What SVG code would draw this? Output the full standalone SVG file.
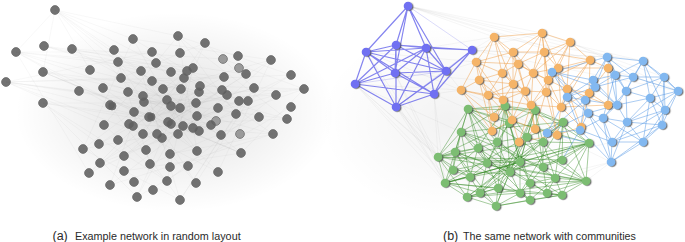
<svg xmlns="http://www.w3.org/2000/svg" width="685" height="242" viewBox="0 0 685 242">
<style>
.ta{font-family:"Liberation Sans",Arial,sans-serif;fill:#2a2a2a}
.n{fill:#5e5e5e;fill-opacity:0.88;stroke:#6a6a6a;stroke-width:0.8}
.nl{fill:#9a9a9a;stroke:#777;stroke-width:0.9}
.bp circle{fill:#6f6ff2}
.or circle{fill:#f5b468}
.lb circle{fill:#82b8f0}
.gr circle{fill:#7cbd72}
.rn{filter:url(#sh)}
</style>
<defs>
<radialGradient id="hazeL" cx="0.5" cy="0.5" r="0.5">
<stop offset="0" stop-color="#000" stop-opacity="0.13"/>
<stop offset="0.6" stop-color="#000" stop-opacity="0.05"/>
<stop offset="1" stop-color="#000" stop-opacity="0"/>
</radialGradient>
<radialGradient id="hazeR" cx="0.5" cy="0.5" r="0.5">
<stop offset="0" stop-color="#000" stop-opacity="0.05"/>
<stop offset="1" stop-color="#000" stop-opacity="0"/>
</radialGradient>
<filter id="sh" x="-20%" y="-20%" width="140%" height="140%">
<feDropShadow dx="1.3" dy="0.7" stdDeviation="0.6" flood-color="#444" flood-opacity="0.75"/>
</filter>
</defs>
<rect width="685" height="242" fill="#fff"/>
<ellipse cx="175" cy="112" rx="160" ry="100" fill="url(#hazeL)"/>
<ellipse cx="450" cy="120" rx="130" ry="95" fill="url(#hazeR)"/>
<g id="connectors" fill="none">
<path id="edges-a" stroke="#777" stroke-opacity="0.09" stroke-width="0.6" d="M55 10L133 39 M55 10L178 36 M55 10L152 81 M55 10L200 86 M55 10L121 78 M55 10L114 50 M55 10L43 72 M55 10L16 52 M55 10L171 106 M55 10L90 70 M6 82L121 78 M6 82L171 106 M6 82L143 134 M6 82L104 125 M6 82L199 131 M6 82L79 91 M6 82L152 52 M6 82L224 77 M16 52L152 52 M16 52L180 108 M16 52L110 105 M16 52L224 77 M16 52L134 112 M16 52L193 68 M16 52L163 89 M44 46L171 72 M44 46L199 92 M44 46L141 71 M44 46L246 74 M72 49L187 71 M72 49L167 100 M72 49L223 59 M43 72L149 117 M43 72L196 103 M43 72L181 89 M43 72L241 153 M43 103L149 117 M43 103L196 103 M43 103L167 181 M43 103L99 144 M43 103L171 124 M304 89L200 86 M304 89L171 106 M304 89L223 59 M304 89L193 128 M304 89L241 153 M304 89L143 96 M291 75L178 36 M291 75L152 81 M291 75L183 126 M291 75L199 131 M271 60L133 39 M271 60L163 89 M271 60L218 108 M271 60L168 122 M205 43L143 134 M205 43L254 88 M205 43L121 78 M205 43L171 124 M178 36L104 125 M178 36L197 151 M178 36L287 119 M178 36L236 114 M133 39L239 101 M133 39L183 126 M133 39L83 149 M180 200L141 71 M180 200L236 114 M180 200L83 149 M180 200L254 88 M180 200L110 105 M137 197L193 68 M137 197L291 107 M137 197L43 103 M137 197L200 86 M89 173L184 78 M89 173L239 101 M89 173L16 52 M89 173L171 106 M110 185L227 95 M110 185L143 96 M110 185L273 134 M241 153L114 50 M241 153L124 171 M241 153L43 72 M241 153L168 122 M273 134L103 88 M273 134L170 154 M273 134L152 52 M273 134L129 124 M287 119L6 82 M287 119L152 81 M287 119L171 124 M218 172L121 78 M218 172L143 134 M218 172L271 60 M196 183L118 62 M196 183L248 101 M196 183L134 112 M167 181L193 68 M167 181L104 125 M167 181L276 95 M83 149L187 71 M83 149L211 125 M99 144L224 77 M99 144L181 89 M100 163L178 134 M100 163L222 90 M124 156L246 74 M124 156L199 92 M150 164L118 62 M150 164L259 117 M197 151L103 88 M197 151L141 71 M221 135L128 92 M221 135L156 63 M254 88L129 124 M254 88L149 117 M276 95L144 102 M276 95L171 124"/>
<path id="edges-b-gray" stroke="#888" stroke-opacity="0.13" stroke-width="0.6" d="M408 6L607 57 M408 6L643 61 M408 6L542 33 M408 6L494 37 M408 6L590 60 M472 50L607 57 M472 50L542 33 M355 84L438 157 M355 84L445 183 M355 84L467 197 M355 84L461 132 M396 107L438 157 M396 107L445 183 M396 107L467 197 M396 107L496 206 M366 52L461 90 M366 52L476 62 M355 84L461 90 M434 94L461 90 M434 94L468 109 M434 94L438 157 M446 71L476 62 M446 71L461 90 M472 50L494 37 M472 50L476 62 M395 73L445 183 M395 73L479 80 M426 48L494 37 M426 48L607 57 M408 6L678 91 M472 50L678 91 M366 52L438 157 M445 183L547 133 M461 90L611 162 M494 37L643 61 M542 33L664 77 M570 42L678 91 M611 162L496 206 M611 162L467 197 M612 142L445 183 M586 181L611 162 M355 84L496 206 M366 52L445 183 M395 73L438 157 M434 94L445 183"/>
<path id="edges-b-purple" stroke="#5050e8" stroke-opacity="0.7" stroke-width="1.2" d="M408 6L366 52 M408 6L396 45 M408 6L426 48 M408 6L446 71 M408 6L395 73 M366 52L396 45 M366 52L426 48 M366 52L355 84 M366 52L395 73 M366 52L434 94 M366 52L396 107 M366 52L446 71 M396 45L426 48 M396 45L472 50 M396 45L395 73 M396 45L396 107 M396 45L355 84 M396 45L446 71 M426 48L472 50 M426 48L446 71 M426 48L434 94 M426 48L395 73 M426 48L396 107 M426 48L355 84 M472 50L446 71 M472 50L434 94 M395 73L355 84 M395 73L434 94 M395 73L446 71 M355 84L396 107 M355 84L434 94 M396 107L434 94 M446 71L434 94 M446 71L396 107"/>
<path id="edges-b-purple-faint" stroke="#5252e6" stroke-opacity="0.25" stroke-width="0.8" d="M408 6L472 50 M355 84L446 71 M396 107L472 50"/>
<path id="edges-b-green" stroke="#358a25" stroke-opacity="0.52" stroke-width="0.85" d="M468 109L505 106 M468 109L461 132 M468 109L455 152 M468 109L509 123 M468 109L497 142 M468 109L478 148 M468 109L438 157 M468 109L487 163 M468 109L520 162 M468 109L535 110 M468 109L589 143 M505 106L535 110 M505 106L509 123 M505 106L497 142 M505 106L527 137 M505 106L478 148 M505 106L520 162 M505 106L510 172 M505 106L563 122 M505 106L461 132 M535 110L563 122 M535 110L527 137 M535 110L543 142 M535 110L509 123 M535 110L543 167 M535 110L520 162 M535 110L589 143 M563 122L589 143 M563 122L543 142 M563 122L562 160 M563 122L555 178 M563 122L527 137 M563 122L586 181 M563 122L461 132 M589 143L562 160 M589 143L586 181 M589 143L555 178 M589 143L543 167 M589 143L543 142 M589 143L562 195 M589 143L445 183 M461 132L438 157 M461 132L455 152 M461 132L478 148 M461 132L453 170 M461 132L497 142 M461 132L487 163 M461 132L470 177 M438 157L455 152 M438 157L445 183 M438 157L453 170 M438 157L470 177 M438 157L478 148 M438 157L467 197 M438 157L586 181 M438 157L520 162 M455 152L478 148 M455 152L453 170 M455 152L470 177 M455 152L487 163 M455 152L445 183 M455 152L510 172 M445 183L467 197 M445 183L453 170 M445 183L470 177 M445 183L480 193 M445 183L498 188 M445 183L562 195 M467 197L480 193 M467 197L498 188 M467 197L496 206 M467 197L470 177 M467 197L520 193 M467 197L586 181 M586 181L562 195 M586 181L555 178 M586 181L562 160 M586 181L547 193 M586 181L543 167 M586 181L530 183 M562 195L547 193 M562 195L530 200 M562 195L555 178 M562 195L496 206 M562 195L520 193 M496 206L498 188 M496 206L520 193 M496 206L530 200 M496 206L480 193 M496 206L510 172 M509 123L497 142 M509 123L527 137 M509 123L520 162 M509 123L487 163 M497 142L478 148 M497 142L487 163 M497 142L527 137 M497 142L520 162 M497 142L510 172 M527 137L543 142 M527 137L520 162 M527 137L543 167 M527 137L510 172 M543 142L543 167 M543 142L562 160 M543 142L555 178 M543 142L520 162 M478 148L487 163 M478 148L470 177 M478 148L453 170 M487 163L510 172 M487 163L470 177 M487 163L520 162 M487 163L498 188 M487 163L480 193 M520 162L543 167 M520 162L510 172 M520 162L530 183 M520 162L520 193 M543 167L555 178 M543 167L530 183 M543 167L547 193 M543 167L562 160 M555 178L547 193 M555 178L530 183 M555 178L530 200 M530 183L510 172 M530 183L520 193 M530 183L530 200 M530 183L547 193 M510 172L498 188 M510 172L520 193 M510 172L480 193 M498 188L520 193 M498 188L480 193 M520 193L530 200 M453 170L470 177 M470 177L480 193 M468 109L586 181 M461 132L562 195 M445 183L589 143 M467 197L563 122 M438 157L562 160 M496 206L535 110 M453 170L589 143 M480 193L563 122 M438 157L543 142 M445 183L527 137 M453 170L555 178 M470 177L562 160 M478 148L547 193 M487 163L586 181 M455 152L530 200 M461 132L543 167 M468 109L510 172 M505 106L498 188 M535 110L498 188 M563 122L520 193 M589 143L510 172 M497 142L555 178 M509 123L530 183 M527 137L480 193 M467 197L543 142 M445 183L520 162 M438 157L509 123 M496 206L455 152 M530 200L478 148"/>
<path id="edges-b-orange" stroke="#ee9a3e" stroke-opacity="0.55" stroke-width="0.85" d="M494 37L513 52 M494 37L476 62 M494 37L518 64 M494 37L502 73 M494 37L542 33 M494 37L479 80 M494 37L513 84 M542 33L513 52 M542 33L544 52 M542 33L570 42 M542 33L518 64 M542 33L533 73 M542 33L558 68 M542 33L548 80 M570 42L544 52 M570 42L590 60 M570 42L558 68 M570 42L548 80 M570 42L533 73 M570 42L567 89 M513 52L544 52 M513 52L476 62 M513 52L518 64 M513 52L502 73 M513 52L533 73 M513 52L513 84 M513 52L525 91 M544 52L518 64 M544 52L533 73 M544 52L558 68 M544 52L548 80 M544 52L590 60 M544 52L546 92 M476 62L502 73 M476 62L479 80 M476 62L461 90 M476 62L488 95 M476 62L518 64 M476 62L503 100 M518 64L502 73 M518 64L533 73 M518 64L513 84 M518 64L525 91 M518 64L548 80 M590 60L558 68 M590 60L548 80 M590 60L567 89 M590 60L608 68 M590 60L589 93 M590 60L561 107 M502 73L479 80 M502 73L513 84 M502 73L488 95 M502 73L503 100 M502 73L525 91 M533 73L558 68 M533 73L513 84 M533 73L548 80 M533 73L525 91 M533 73L546 92 M533 73L531 105 M558 68L548 80 M558 68L567 89 M558 68L546 92 M558 68L608 68 M558 68L561 107 M479 80L461 90 M479 80L488 95 M479 80L503 100 M479 80L513 84 M479 80L492 131 M513 84L488 95 M513 84L525 91 M513 84L503 100 M513 84L531 105 M513 84L512 120 M548 80L546 92 M548 80L567 89 M548 80L531 105 M548 80L561 107 M548 80L557 135 M461 90L488 95 M461 90L503 100 M461 90L492 131 M461 90L494 117 M488 95L503 100 M488 95L512 120 M488 95L492 131 M488 95L494 117 M488 95L525 91 M525 91L546 92 M525 91L503 100 M525 91L531 105 M525 91L512 120 M525 91L535 129 M546 92L567 89 M546 92L531 105 M546 92L561 107 M546 92L557 135 M546 92L535 129 M567 89L561 107 M567 89L589 93 M567 89L581 127 M567 89L608 105 M503 100L531 105 M503 100L512 120 M503 100L492 131 M503 100L494 117 M531 105L561 107 M531 105L512 120 M531 105L519 142 M531 105L535 129 M531 105L557 135 M561 107L557 135 M561 107L581 127 M561 107L608 105 M561 107L589 93 M512 120L492 131 M512 120L519 142 M512 120L535 129 M519 142L535 129 M519 142L557 135 M557 135L581 127 M557 135L535 129 M608 68L589 93 M608 68L608 105 M589 93L608 105 M589 93L581 127"/>
<path id="edges-b-blue" stroke="#4a90e2" stroke-opacity="0.55" stroke-width="0.85" d="M607 57L643 61 M607 57L615 75 M607 57L593 80 M607 57L595 87 M607 57L633 77 M607 57L626 91 M607 57L552 72 M607 57L617 105 M643 61L664 77 M643 61L633 77 M643 61L626 91 M643 61L650 98 M643 61L615 75 M643 61L678 91 M643 61L665 110 M664 77L678 91 M664 77L650 98 M664 77L665 110 M664 77L633 77 M664 77L626 91 M664 77L662 125 M678 91L650 98 M678 91L665 110 M678 91L662 125 M678 91L633 77 M678 91L627 122 M552 72L593 80 M552 72L567 97 M552 72L595 87 M552 72L585 100 M552 72L588 113 M593 80L615 75 M593 80L595 87 M593 80L567 97 M593 80L585 100 M593 80L617 105 M615 75L626 91 M615 75L633 77 M615 75L617 105 M615 75L595 87 M615 75L603 118 M626 91L650 98 M626 91L617 105 M626 91L627 122 M626 91L633 77 M626 91L603 118 M650 98L665 110 M650 98L627 122 M650 98L662 125 M650 98L617 105 M650 98L643 142 M665 110L662 125 M665 110L627 122 M665 110L643 142 M665 110L612 142 M662 125L643 142 M662 125L627 122 M662 125L612 142 M662 125L611 162 M643 142L612 142 M643 142L611 162 M643 142L627 122 M643 142L603 118 M612 142L611 162 M612 142L580 130 M612 142L603 118 M612 142L588 113 M612 142L627 122 M611 162L580 130 M611 162L603 118 M611 162L627 122 M611 162L588 113 M580 130L547 133 M580 130L588 113 M580 130L585 100 M580 130L567 97 M580 130L603 118 M547 133L567 97 M547 133L585 100 M547 133L588 113 M567 97L585 100 M567 97L595 87 M567 97L588 113 M588 113L603 118 M588 113L617 105 M588 113L585 100 M603 118L627 122 M603 118L617 105 M627 122L617 105 M617 105L585 100 M617 105L595 87 M585 100L595 87 M633 77L595 87 M547 133L589 143 M580 130L562 160"/>
</g>
<g id="panel-a">
<circle id="a1" class="n" cx="55" cy="10" r="4.4"/>
<circle id="a2" class="n" cx="16" cy="52" r="4.4"/>
<circle id="a3" class="n" cx="44" cy="46" r="4.4"/>
<circle id="a4" class="n" cx="72" cy="49" r="4.4"/>
<circle id="a5" class="n" cx="6" cy="82" r="4.4"/>
<circle id="a6" class="n" cx="43" cy="72" r="4.4"/>
<circle id="a7" class="n" cx="43" cy="103" r="4.4"/>
<circle id="a8" class="n" cx="79" cy="91" r="4.4"/>
<circle id="a9" class="n" cx="90" cy="70" r="4.4"/>
<circle id="a10" class="n" cx="114" cy="50" r="4.4"/>
<circle id="a11" class="n" cx="133" cy="39" r="4.4"/>
<circle id="a12" class="n" cx="178" cy="36" r="4.4"/>
<circle id="a13" class="n" cx="205" cy="43" r="4.4"/>
<circle id="a14" class="n" cx="152" cy="52" r="4.4"/>
<circle id="a15" class="n" cx="180" cy="53" r="4.4"/>
<circle id="a16" class="n" cx="118" cy="62" r="4.4"/>
<circle id="a17" class="n" cx="156" cy="63" r="4.4"/>
<circle id="a18" class="n" cx="121" cy="78" r="4.4"/>
<circle id="a19" class="n" cx="141" cy="71" r="4.4"/>
<circle id="a20" class="n" cx="171" cy="72" r="4.4"/>
<circle id="a21" class="n" cx="187" cy="71" r="4.4"/>
<circle id="a22" class="n" cx="193" cy="68" r="4.4"/>
<circle id="a23" class="n" cx="184" cy="78" r="4.4"/>
<circle id="a24" class="nl" cx="223" cy="59" r="4.4"/>
<circle id="a25" class="n" cx="238" cy="56" r="4.4"/>
<circle id="a26" class="nl" cx="239" cy="68" r="4.4"/>
<circle id="a27" class="n" cx="246" cy="74" r="4.4"/>
<circle id="a28" class="n" cx="271" cy="60" r="4.4"/>
<circle id="a29" class="n" cx="291" cy="75" r="4.4"/>
<circle id="a30" class="n" cx="304" cy="89" r="4.4"/>
<circle id="a31" class="n" cx="103" cy="88" r="4.4"/>
<circle id="a32" class="n" cx="128" cy="92" r="4.4"/>
<circle id="a33" class="n" cx="152" cy="81" r="4.4"/>
<circle id="a34" class="n" cx="163" cy="89" r="4.4"/>
<circle id="a35" class="n" cx="181" cy="89" r="4.4"/>
<circle id="a36" class="n" cx="200" cy="86" r="4.4"/>
<circle id="a37" class="n" cx="199" cy="92" r="4.4"/>
<circle id="a38" class="n" cx="224" cy="77" r="4.4"/>
<circle id="a39" class="n" cx="222" cy="90" r="4.4"/>
<circle id="a40" class="n" cx="227" cy="95" r="4.4"/>
<circle id="a41" class="n" cx="254" cy="88" r="4.4"/>
<circle id="a42" class="n" cx="276" cy="95" r="4.4"/>
<circle id="a43" class="n" cx="291" cy="107" r="4.4"/>
<circle id="a44" class="n" cx="287" cy="119" r="4.4"/>
<circle id="a45" class="n" cx="273" cy="134" r="4.4"/>
<circle id="a46" class="n" cx="259" cy="117" r="4.4"/>
<circle id="a47" class="n" cx="248" cy="101" r="4.4"/>
<circle id="a48" class="n" cx="239" cy="101" r="4.4"/>
<circle id="a49" class="n" cx="236" cy="114" r="4.4"/>
<circle id="a50" class="n" cx="218" cy="108" r="4.4"/>
<circle id="a51" class="nl" cx="216" cy="121" r="4.4"/>
<circle id="a52" class="n" cx="211" cy="125" r="4.4"/>
<circle id="a53" class="n" cx="196" cy="103" r="4.4"/>
<circle id="a54" class="n" cx="197" cy="116" r="4.4"/>
<circle id="a55" class="n" cx="180" cy="108" r="4.4"/>
<circle id="a56" class="n" cx="171" cy="106" r="4.4"/>
<circle id="a57" class="n" cx="167" cy="100" r="4.4"/>
<circle id="a58" class="n" cx="143" cy="96" r="4.4"/>
<circle id="a59" class="n" cx="144" cy="102" r="4.4"/>
<circle id="a60" class="n" cx="134" cy="112" r="4.4"/>
<circle id="a61" class="n" cx="110" cy="105" r="4.4"/>
<circle id="a61b" class="n" cx="112" cy="106" r="4"/>
<circle id="a62" class="n" cx="149" cy="117" r="4.4"/>
<circle id="a62b" class="n" cx="151" cy="117" r="4"/>
<circle id="a63" class="n" cx="168" cy="122" r="4.4"/>
<circle id="a64" class="n" cx="171" cy="124" r="4.4"/>
<circle id="a65" class="n" cx="183" cy="126" r="4.4"/>
<circle id="a66" class="n" cx="193" cy="128" r="4.4"/>
<circle id="a67" class="n" cx="199" cy="131" r="4.4"/>
<circle id="a68" class="n" cx="129" cy="124" r="4.4"/>
<circle id="a69" class="n" cx="133" cy="126" r="4.4"/>
<circle id="a70" class="n" cx="104" cy="125" r="4.4"/>
<circle id="a71" class="n" cx="143" cy="134" r="4.4"/>
<circle id="a72" class="n" cx="157" cy="134" r="4.4"/>
<circle id="a73" class="n" cx="162" cy="138" r="4.4"/>
<circle id="a74" class="n" cx="178" cy="134" r="4.4"/>
<circle id="a75" class="n" cx="221" cy="135" r="4.4"/>
<circle id="a76" class="nl" cx="240" cy="134" r="4.4"/>
<circle id="a77" class="n" cx="241" cy="153" r="4.4"/>
<circle id="a78" class="n" cx="118" cy="140" r="4.4"/>
<circle id="a79" class="n" cx="99" cy="144" r="4.4"/>
<circle id="a80" class="n" cx="83" cy="149" r="4.4"/>
<circle id="a81" class="n" cx="146" cy="150" r="4.4"/>
<circle id="a82" class="n" cx="170" cy="154" r="4.4"/>
<circle id="a83" class="n" cx="197" cy="151" r="4.4"/>
<circle id="a84" class="n" cx="124" cy="156" r="4.4"/>
<circle id="a85" class="n" cx="100" cy="163" r="4.4"/>
<circle id="a86" class="n" cx="150" cy="164" r="4.4"/>
<circle id="a87" class="n" cx="170" cy="167" r="4.4"/>
<circle id="a88" class="n" cx="188" cy="166" r="4.4"/>
<circle id="a89" class="n" cx="124" cy="171" r="4.4"/>
<circle id="a90" class="n" cx="218" cy="172" r="4.4"/>
<circle id="a91" class="n" cx="89" cy="173" r="4.4"/>
<circle id="a92" class="n" cx="110" cy="185" r="4.4"/>
<circle id="a93" class="n" cx="134" cy="182" r="4.4"/>
<circle id="a94" class="n" cx="167" cy="181" r="4.4"/>
<circle id="a95" class="n" cx="196" cy="183" r="4.4"/>
<circle id="a96" class="n" cx="153" cy="190" r="4.4"/>
<circle id="a97" class="n" cx="137" cy="197" r="4.4"/>
<circle id="a98" class="n" cx="180" cy="200" r="4.4"/>
</g>
<g id="panel-b" class="rn">
<g id="purple-community" class="bp">
<circle id="b1" cx="408" cy="6" r="4.3"/>
<circle id="b2" cx="366" cy="52" r="4.3"/>
<circle id="b3" cx="396" cy="45" r="4.3"/>
<circle id="b4" cx="426" cy="48" r="4.3"/>
<circle id="b5" cx="472" cy="50" r="4.3"/>
<circle id="b6" cx="395" cy="73" r="4.3"/>
<circle id="b7" cx="446" cy="71" r="4.3"/>
<circle id="b8" cx="355" cy="84" r="4.3"/>
<circle id="b9" cx="434" cy="94" r="4.3"/>
<circle id="b10" cx="396" cy="107" r="4.3"/>
</g>
<g id="green-community" class="gr">
<circle id="g1" cx="468" cy="109" r="4.3"/>
<circle id="g2" cx="505" cy="106" r="4.3"/>
<circle id="g3" cx="535" cy="110" r="4.3"/>
<circle id="g4" cx="563" cy="122" r="4.3"/>
<circle id="g5" cx="589" cy="143" r="4.3"/>
<circle id="g6" cx="461" cy="132" r="4.3"/>
<circle id="g7" cx="438" cy="157" r="4.3"/>
<circle id="g8" cx="455" cy="152" r="4.3"/>
<circle id="g9" cx="445" cy="183" r="4.3"/>
<circle id="g10" cx="467" cy="197" r="4.3"/>
<circle id="g11" cx="586" cy="181" r="4.3"/>
<circle id="g12" cx="562" cy="195" r="4.3"/>
<circle id="g13" cx="496" cy="206" r="4.3"/>
<circle id="g14" cx="509" cy="123" r="4.3"/>
<circle id="g15" cx="497" cy="142" r="4.3"/>
<circle id="g16" cx="527" cy="137" r="4.3"/>
<circle id="g17" cx="543" cy="142" r="4.3"/>
<circle id="g18" cx="478" cy="148" r="4.3"/>
<circle id="g19" cx="487" cy="163" r="4.3"/>
<circle id="g20" cx="520" cy="162" r="4.3"/>
<circle id="g21" cx="543" cy="167" r="4.3"/>
<circle id="g22" cx="555" cy="178" r="4.3"/>
<circle id="g23" cx="530" cy="183" r="4.3"/>
<circle id="g24" cx="510" cy="172" r="4.3"/>
<circle id="g25" cx="498" cy="188" r="4.3"/>
<circle id="g26" cx="520" cy="193" r="4.3"/>
<circle id="g27" cx="470" cy="177" r="4.3"/>
<circle id="g28" cx="453" cy="170" r="4.3"/>
<circle id="g29" cx="480" cy="193" r="4.3"/>
<circle id="g30" cx="530" cy="200" r="4.3"/>
<circle id="g31" cx="547" cy="193" r="4.3"/>
<circle id="g32" cx="562" cy="160" r="4.3"/>
</g>
<g id="orange-community" class="or">
<circle id="o1" cx="494" cy="37" r="4.3"/>
<circle id="o2" cx="542" cy="33" r="4.3"/>
<circle id="o3" cx="570" cy="42" r="4.3"/>
<circle id="o4" cx="513" cy="52" r="4.3"/>
<circle id="o5" cx="544" cy="52" r="4.3"/>
<circle id="o6" cx="476" cy="62" r="4.3"/>
<circle id="o7" cx="518" cy="64" r="4.3"/>
<circle id="o8" cx="590" cy="60" r="4.3"/>
<circle id="o9" cx="502" cy="73" r="4.3"/>
<circle id="o10" cx="533" cy="73" r="4.3"/>
<circle id="o11" cx="558" cy="68" r="4.3"/>
<circle id="o12" cx="479" cy="80" r="4.3"/>
<circle id="o13" cx="513" cy="84" r="4.3"/>
<circle id="o14" cx="548" cy="80" r="4.3"/>
<circle id="o15" cx="461" cy="90" r="4.3"/>
<circle id="o16" cx="488" cy="95" r="4.3"/>
<circle id="o17" cx="525" cy="91" r="4.3"/>
<circle id="o18" cx="546" cy="92" r="4.3"/>
<circle id="o19" cx="567" cy="89" r="4.3"/>
<circle id="o20" cx="503" cy="100" r="4.3"/>
<circle id="o21" cx="531" cy="105" r="4.3"/>
<circle id="o22" cx="561" cy="107" r="4.3"/>
<circle id="o23" cx="512" cy="120" r="4.3"/>
<circle id="o24" cx="492" cy="131" r="4.3"/>
<circle id="o25" cx="519" cy="142" r="4.3"/>
<circle id="o26" cx="557" cy="135" r="4.3"/>
<circle id="o27" cx="581" cy="127" r="4.3"/>
<circle id="o28" cx="608" cy="68" r="4.3"/>
<circle id="o29" cx="589" cy="93" r="4.3"/>
<circle id="o30" cx="608" cy="105" r="4.3"/>
<circle id="o31" cx="494" cy="117" r="4.3"/>
<circle id="o32" cx="535" cy="129" r="4.3"/>
</g>
<g id="blue-community" class="lb">
<circle id="l1" cx="607" cy="57" r="4.3"/>
<circle id="l2" cx="643" cy="61" r="4.3"/>
<circle id="l3" cx="664" cy="77" r="4.3"/>
<circle id="l4" cx="678" cy="91" r="4.3"/>
<circle id="l5" cx="552" cy="72" r="4.3"/>
<circle id="l6" cx="593" cy="80" r="4.3"/>
<circle id="l7" cx="615" cy="75" r="4.3"/>
<circle id="l8" cx="626" cy="91" r="4.3"/>
<circle id="l9" cx="650" cy="98" r="4.3"/>
<circle id="l10" cx="665" cy="110" r="4.3"/>
<circle id="l11" cx="662" cy="125" r="4.3"/>
<circle id="l12" cx="643" cy="142" r="4.3"/>
<circle id="l13" cx="612" cy="142" r="4.3"/>
<circle id="l14" cx="611" cy="162" r="4.3"/>
<circle id="l15" cx="580" cy="130" r="4.3"/>
<circle id="l16" cx="547" cy="133" r="4.3"/>
<circle id="l17" cx="567" cy="97" r="4.3"/>
<circle id="l18" cx="588" cy="113" r="4.3"/>
<circle id="l19" cx="603" cy="118" r="4.3"/>
<circle id="l20" cx="627" cy="122" r="4.3"/>
<circle id="l21" cx="617" cy="105" r="4.3"/>
<circle id="l22" cx="585" cy="100" r="4.3"/>
<circle id="l23" cx="595" cy="87" r="4.3"/>
<circle id="l24" cx="633" cy="77" r="4.3"/>
</g>
</g>
<g id="captions">
<text class="ta" x="52.5" y="239.5" font-size="12.5">(a)</text>
<text class="ta" x="75" y="239.5" font-size="10.8">Example network in random layout</text>
<text class="ta" x="443" y="239.5" font-size="12.5">(b)</text>
<text class="ta" x="463" y="239.5" font-size="10.7">The same network with communities</text>
</g>
</svg>
